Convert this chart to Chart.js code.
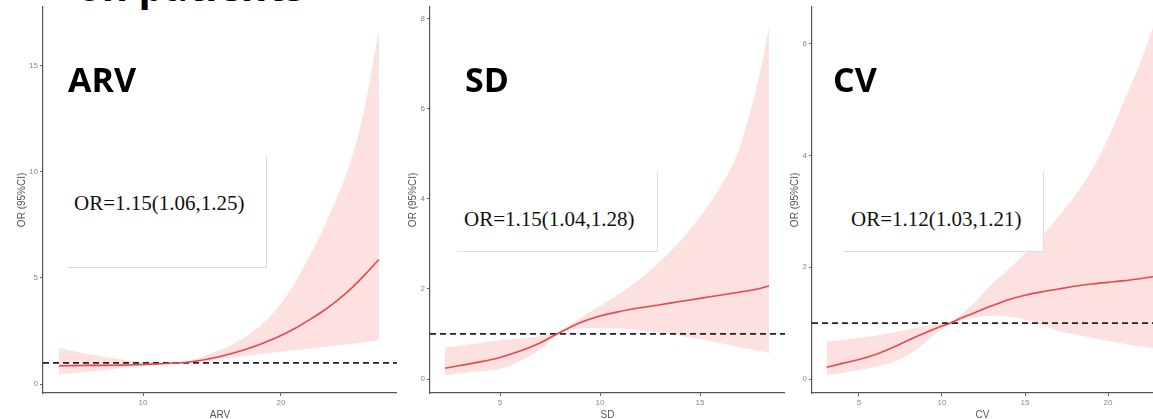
<!DOCTYPE html>
<html>
<head>
<meta charset="utf-8">
<script src="https://cdn.jsdelivr.net/npm/chart.js@4.4.1/dist/chart.umd.min.js"></script>
<style>
  html, body { margin: 0; padding: 0; background: #fff; }
  body { width: 1153px; height: 419px; overflow: hidden; position: relative; }
  canvas { position: absolute; top: 0; }
  .lbl { position: absolute; font: bold 34px/34px "Open Sans", sans-serif; color: #000; }
  .box { position: absolute; background: #fff; border-right: 1px solid #dcdcdc; border-bottom: 1px solid #dcdcdc; }
  .or  { position: absolute; font: 21px/21px "Liberation Serif", "Times New Roman", serif; color: #111; white-space: nowrap; }
  .head { position: absolute; left: 77px; top: -34px; font: bold 40px/40px "Open Sans", sans-serif; color: #000; white-space: nowrap; }
</style>
</head>
<body>
<div class="head">on patients</div>
<canvas id="cArv" width="397" height="423" style="left:0px"></canvas>
<canvas id="cSd"  width="388" height="423" style="left:397px"></canvas>
<canvas id="cCv"  width="368" height="423" style="left:785px"></canvas>

<div class="box" style="left:68px;top:156px;width:198px;height:111px"></div>
<div class="box" style="left:457px;top:172px;width:200px;height:79px"></div>
<div class="box" style="left:844px;top:172px;width:199px;height:79px"></div>

<div class="lbl" style="left:68px;top:62px">ARV</div>
<div class="lbl" style="left:465px;top:62px">SD</div>
<div class="lbl" style="left:833px;top:62px">CV</div>

<div class="or" style="left:74px;top:193px">OR=1.15(1.06,1.25)</div>
<div class="or" style="left:464px;top:209px">OR=1.15(1.04,1.28)</div>
<div class="or" style="left:851px;top:209px">OR=1.12(1.03,1.21)</div>

<script>
// reference line (OR = 1)
const refOR = 1;

// ARV
const arvX   = [3.9, 5, 6, 7, 8, 9, 10, 11, 12, 13, 14, 15, 16, 17, 18, 19, 20, 21, 22, 23, 24, 25, 26, 27.1];
const arvFit = [0.86, 0.87, 0.88, 0.88, 0.89, 0.90, 0.92, 0.95, 0.98, 1.02, 1.10, 1.22, 1.37, 1.55, 1.76, 2.01, 2.29, 2.62, 3.00, 3.42, 3.90, 4.45, 5.10, 5.87];
const arvLow = [0.46, 0.52, 0.58, 0.65, 0.72, 0.80, 0.86, 0.91, 0.95, 0.99, 1.04, 1.12, 1.22, 1.30, 1.37, 1.45, 1.52, 1.60, 1.67, 1.74, 1.82, 1.89, 1.97, 2.07];
const arvUp  = [1.70, 1.55, 1.42, 1.30, 1.20, 1.10, 1.02, 1.00, 1.02, 1.07, 1.22, 1.48, 1.72, 2.05, 2.48, 3.05, 3.80, 4.75, 5.95, 7.25, 8.70, 10.4, 12.8, 16.7];
const arvTicksX = [10, 20];
const arvTicksY = [0, 5, 10, 15];

// SD
const sdX   = [2.25, 3, 4, 5, 6, 7, 7.85, 9, 10, 11, 12, 13, 14, 15, 16, 17, 18, 18.45];
const sdFit = [0.24, 0.30, 0.38, 0.48, 0.62, 0.80, 1.00, 1.25, 1.40, 1.50, 1.58, 1.65, 1.72, 1.79, 1.86, 1.93, 2.01, 2.07];
const sdLow = [0.08, 0.12, 0.17, 0.22, 0.40, 0.65, 0.97, 1.12, 1.13, 1.12, 1.08, 1.02, 0.96, 0.88, 0.80, 0.70, 0.62, 0.58];
const sdUp  = [0.70, 0.74, 0.80, 0.86, 0.90, 0.95, 1.03, 1.35, 1.62, 1.90, 2.22, 2.60, 3.05, 3.60, 4.25, 5.15, 6.80, 7.80];
const sdTicksX = [5, 10, 15];
const sdTicksY = [0, 2, 4, 6, 8];

// CV
const cvX   = [3.05, 4, 5, 6, 7, 8, 9, 10, 10.5, 11, 12, 13, 14, 15, 16, 17, 18, 19, 20, 21, 22, 22.71];
const cvFit = [0.21, 0.28, 0.35, 0.44, 0.56, 0.70, 0.83, 0.95, 1.00, 1.07, 1.19, 1.31, 1.42, 1.50, 1.56, 1.61, 1.66, 1.70, 1.73, 1.76, 1.80, 1.83];
const cvLow = [0.07, 0.11, 0.16, 0.22, 0.30, 0.44, 0.65, 0.90, 0.98, 1.04, 1.10, 1.13, 1.12, 1.06, 0.97, 0.86, 0.80, 0.74, 0.68, 0.63, 0.58, 0.55];
const cvUp  = [0.67, 0.70, 0.74, 0.78, 0.83, 0.89, 0.95, 1.00, 1.03, 1.12, 1.38, 1.70, 1.96, 2.25, 2.56, 2.90, 3.28, 3.72, 4.30, 5.00, 5.70, 6.29];
const cvTicksX = [5, 10, 15, 20];
const cvTicksY = [0, 2, 4, 6];

const BAND = '#fde1e1';
const LINE = '#e5484c';
const AXIS_FONT = 'Liberation Sans, Arial, sans-serif';

function panel(id, p) {
  const pts = arr => p.x.map((x, i) => ({ x: x, y: arr[i] }));
  const smooth = { pointRadius: 0, cubicInterpolationMode: 'monotone' };
  return new Chart(document.getElementById(id), {
    type: 'line',
    data: {
      datasets: [
        { ...smooth, data: pts(p.up), fill: '+1', backgroundColor: BAND, borderColor: 'transparent', borderWidth: 0 },
        { ...smooth, data: pts(p.low), fill: false, borderColor: 'transparent', borderWidth: 0 },
        { ...smooth, data: pts(p.fit), fill: false, borderColor: LINE, borderWidth: 1.6 },
        { data: [{ x: p.xMin, y: refOR }, { x: p.xMax, y: refOR }], fill: false, pointRadius: 0,
          borderColor: '#222', borderWidth: 1.7, borderDash: [6, 4] }
      ]
    },
    options: {
      responsive: false,
      animation: false,
      events: [],
      layout: { padding: { left: p.padL, top: p.padT, right: 0, bottom: 0 } },
      plugins: {
        legend: { display: false },
        tooltip: { enabled: false },
        filler: { drawTime: 'beforeDatasetsDraw' }
      },
      scales: {
        x: {
          type: 'linear', min: p.xMin, max: p.xMax,
          afterBuildTicks: s => { s.ticks = p.tx.map(v => ({ value: v })); },
          afterFit: s => { s.height = 30; },
          grid: { display: true, drawOnChartArea: false, tickLength: 3, color: '#666' },
          border: { color: '#555', width: 1.2 },
          ticks: { font: { size: 8, family: AXIS_FONT }, color: '#888', padding: 2, maxRotation: 0 },
          title: { display: true, text: p.name, font: { size: 10, family: AXIS_FONT }, color: '#555', padding: { top: 0, bottom: 2 } }
        },
        y: {
          type: 'linear', min: p.yMin, max: p.yMax,
          afterBuildTicks: s => { s.ticks = p.ty.map(v => ({ value: v })); },
          afterFit: s => { s.width = p.yW; },
          grid: { display: true, drawOnChartArea: false, tickLength: 3, color: '#666' },
          border: { color: '#555', width: 1.2 },
          ticks: { font: { size: 8, family: AXIS_FONT }, color: '#888', padding: 2 },
          title: { display: true, text: 'OR (95%CI)', font: { size: 10, family: AXIS_FONT }, color: '#555', padding: { top: 4, bottom: 0 } }
        }
      }
    }
  });
}

panel('cArv', { name: 'ARV', x: arvX, fit: arvFit, low: arvLow, up: arvUp, tx: arvTicksX, ty: arvTicksY,
  xMin: 2.75, xMax: 28.41, yMin: -0.42, yMax: 17.78, padL: 12, padT: 0, yW: 31 });
panel('cSd', { name: 'SD', x: sdX, fit: sdFit, low: sdLow, up: sdUp, tx: sdTicksX, ty: sdTicksY,
  xMin: 1.5, xMax: 19.25, yMin: -0.31, yMax: 8.26, padL: 6, padT: 4, yW: 27 });
panel('cCv', { name: 'CV', x: cvX, fit: cvFit, low: cvLow, up: cvUp, tx: cvTicksX, ty: cvTicksY,
  xMin: 2.17, xMax: 22.71, yMin: -0.25, yMax: 6.66, padL: 0, padT: 4, yW: 27 });
</script>
</body>
</html>
